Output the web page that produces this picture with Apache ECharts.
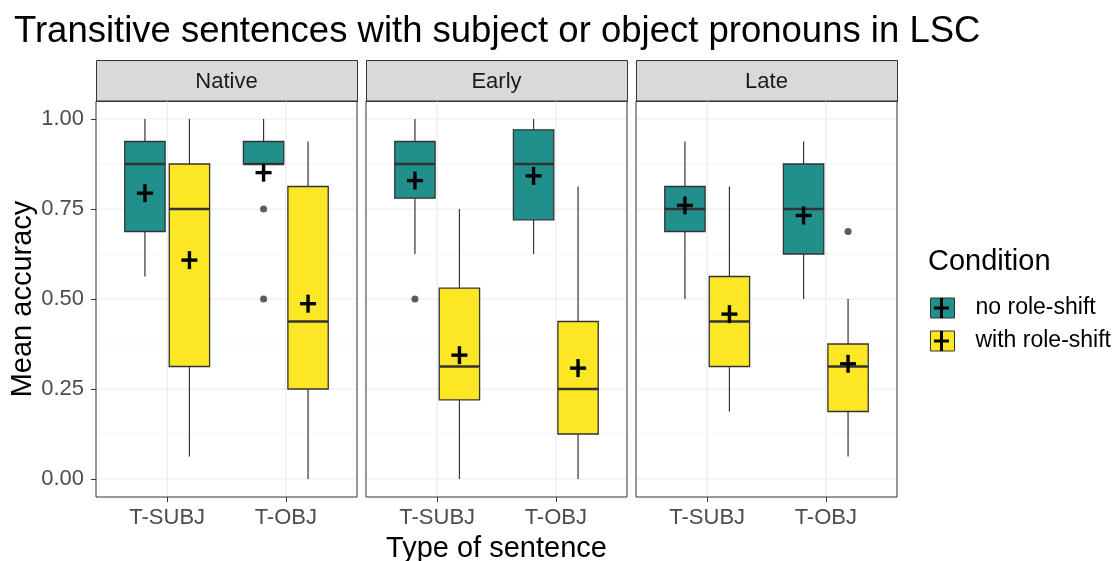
<!DOCTYPE html>
<html><head><meta charset="utf-8">
<script src="https://cdn.jsdelivr.net/npm/echarts@6/dist/echarts.min.js"></script>
<style>html,body{margin:0;padding:0;background:#fff}#c{width:1114px;height:561px}</style>
</head><body><div id="c"></div>
<script>
// ---------- data ----------
const panels = ['Native', 'Early', 'Late'];
const categories = ['T-SUBJ', 'T-OBJ'];
const conditions = ['no role-shift', 'with role-shift'];
const yTicks = [0, 0.25, 0.5, 0.75, 1];
const yTickLabels = ['0.00', '0.25', '0.50', '0.75', '1.00'];
const yMinorTicks = [0.125, 0.375, 0.625, 0.875];

// box stats [low whisker, Q1, median, Q3, high whisker]; per panel -> [T-SUBJ, T-OBJ]
const noShiftBoxes = [
  [[0.5625, 0.6875, 0.875, 0.9375, 1.0], [0.875, 0.875, 0.875, 0.9375, 1.0]],
  [[0.625, 0.78, 0.875, 0.9375, 1.0], [0.625, 0.72, 0.875, 0.97, 1.0]],
  [[0.5, 0.6875, 0.75, 0.8125, 0.9375], [0.5, 0.625, 0.75, 0.875, 0.9375]]
];
const withShiftBoxes = [
  [[0.0625, 0.3125, 0.75, 0.875, 1.0], [0.0, 0.25, 0.4375, 0.8125, 0.9375]],
  [[0.0, 0.22, 0.3125, 0.53, 0.75], [0.0, 0.125, 0.25, 0.4375, 0.8125]],
  [[0.1875, 0.3125, 0.4375, 0.5625, 0.8125], [0.0625, 0.1875, 0.3125, 0.375, 0.5]]
];
// means per panel -> [T-SUBJ, T-OBJ]
const noShiftMeans = [[0.794, 0.851], [0.829, 0.842], [0.760, 0.732]];
const withShiftMeans = [[0.608, 0.487], [0.344, 0.308], [0.458, 0.320]];
// outliers [panel index, category index, value]
const noShiftOutliers = [[0, 1, 0.75], [0, 1, 0.5], [1, 0, 0.5]];
const withShiftOutliers = [[2, 1, 0.6875]];

// ---------- style / layout ----------
const FONT = 'Liberation Sans, Arial, sans-serif';
const colors = ['#21908C', '#FDE725'];
const offsets = [-0.1875, 0.1875];
const boxWidth = 0.34;
const gridLefts = [96, 366, 636];
const gridW = 261, gridTop = 101, gridH = 396, stripH = 41;

const boxSets = [noShiftBoxes, withShiftBoxes];
const meanSets = [noShiftMeans, withShiftMeans];
const outlierSets = [noShiftOutliers, withShiftOutliers];

function line(x1, y1, x2, y2, w, c) {
  return { type: 'line', shape: { x1, y1, x2, y2 }, style: { stroke: c || '#333333', lineWidth: w } };
}

function boxRenderer(offset, color) {
  return function (params, api) {
    const xc = api.value(0) + 1 + offset;
    const pLow = api.coord([xc, api.value(1)]);
    const pQ1 = api.coord([xc, api.value(2)]);
    const pMed = api.coord([xc, api.value(3)]);
    const pQ3 = api.coord([xc, api.value(4)]);
    const pHigh = api.coord([xc, api.value(5)]);
    const hw = api.size([boxWidth, 0])[0] / 2;
    return {
      type: 'group', children: [
        line(pQ3[0], pQ3[1], pHigh[0], pHigh[1], 1.2),
        line(pLow[0], pLow[1], pQ1[0], pQ1[1], 1.2),
        { type: 'rect', shape: { x: pQ3[0] - hw, y: pQ3[1], width: 2 * hw, height: pQ1[1] - pQ3[1] },
          style: { fill: color, stroke: '#333333', lineWidth: 1.3 } },
        line(pMed[0] - hw, pMed[1], pMed[0] + hw, pMed[1], 2.6)
      ]
    };
  };
}

function meanRenderer(offset) {
  return function (params, api) {
    const p = api.coord([api.value(0) + 1 + offset, api.value(1)]);
    return {
      type: 'group', children: [
        line(p[0] - 8, p[1], p[0] + 8, p[1], 3.4, '#000'),
        line(p[0], p[1] - 9, p[0], p[1] + 9, 3.4, '#000')
      ]
    };
  };
}

function gridLineRenderer(params, api) {
  const v = api.value(0), kind = api.value(1);
  if (kind === 2) {
    const a = api.coord([v, -0.05]), b = api.coord([v, 1.05]);
    return line(a[0], a[1], b[0], b[1], 1.1, '#EBEBEB');
  }
  const a = api.coord([0.4, v]), b = api.coord([2.6, v]);
  return line(a[0], a[1], b[0], b[1], kind === 0 ? 1.1 : 0.7, kind === 0 ? '#EBEBEB' : '#F0F0F0');
}

const grids = [], xAxes = [], yAxes = [], series = [], graphics = [];
panels.forEach((panel, pi) => {
  grids.push({ left: gridLefts[pi], top: gridTop, width: gridW, height: gridH, show: true,
    containLabel: false, outerBoundsMode: 'none',
    borderColor: '#333333', borderWidth: 1, backgroundColor: 'transparent', z: 5 });
  const catVals = categories.map((c, i) => i + 1);
  xAxes.push({
    type: 'value', gridIndex: pi, min: 0.4, max: 2.6, position: 'bottom',
    axisLine: { show: false, onZero: false }, splitLine: { show: false },
    axisTick: { show: true, customValues: catVals, length: 5, lineStyle: { color: '#333333', width: 1 } },
    axisLabel: { show: true, customValues: catVals, formatter: v => categories[Math.round(v) - 1],
      fontSize: 22, color: '#4D4D4D', margin: 10, fontFamily: FONT },
    name: pi === 1 ? 'Type of sentence' : '', nameLocation: 'middle', nameGap: 37,
    nameTextStyle: { fontSize: 29, color: '#000', fontFamily: FONT }
  });
  yAxes.push({
    type: 'value', gridIndex: pi, min: -0.05, max: 1.05, position: 'left',
    axisLine: { show: false, onZero: false }, splitLine: { show: false },
    axisTick: { show: pi === 0, customValues: yTicks, length: 5, lineStyle: { color: '#333333', width: 1 } },
    axisLabel: { show: pi === 0, customValues: yTicks,
      formatter: v => { const k = yTicks.indexOf(v); return k >= 0 ? yTickLabels[k] : v.toFixed(2); },
      fontSize: 22, color: '#4D4D4D', margin: 12, fontFamily: FONT },
    name: pi === 0 ? 'Mean accuracy' : '', nameLocation: 'middle', nameGap: 50,
    nameTextStyle: { fontSize: 29, color: '#000', fontFamily: FONT }
  });
  // grid lines
  const gl = [];
  yTicks.forEach(v => gl.push([v, 0]));
  yMinorTicks.forEach(v => gl.push([v, 1]));
  catVals.forEach(v => gl.push([v, 2]));
  series.push({ type: 'custom', name: 'grid' + pi, xAxisIndex: pi, yAxisIndex: pi, z: 1, silent: true,
    renderItem: gridLineRenderer, data: gl });
  // boxes
  conditions.forEach((cond, ci) => {
    series.push({
      type: 'custom', name: cond, xAxisIndex: pi, yAxisIndex: pi, z: 2,
      itemStyle: { color: colors[ci] },
      renderItem: boxRenderer(offsets[ci], colors[ci]),
      encode: { x: 0, y: [1, 2, 3, 4, 5] },
      data: boxSets[ci][pi].map((b, k) => [k].concat(b))
    });
  });
  conditions.forEach((cond, ci) => {
    series.push({
      type: 'scatter', name: 'outlier', xAxisIndex: pi, yAxisIndex: pi, z: 3,
      symbolSize: 7, itemStyle: { color: '#333333' },
      data: outlierSets[ci].filter(o => o[0] === pi).map(o => [o[1] + 1 + offsets[ci], o[2]])
    });
    series.push({
      type: 'custom', name: 'mean', xAxisIndex: pi, yAxisIndex: pi, z: 4,
      renderItem: meanRenderer(offsets[ci]),
      data: meanSets[ci][pi].map((m, k) => [k, m])
    });
  });
  // strip
  graphics.push({ type: 'rect', left: gridLefts[pi], top: gridTop - stripH,
    shape: { width: gridW, height: stripH }, style: { fill: '#D9D9D9', stroke: '#333333', lineWidth: 1 } });
  graphics.push({ type: 'text', x: gridLefts[pi] + gridW / 2, y: gridTop - stripH / 2 + 1,
    style: { text: panel, fill: '#1A1A1A', align: 'center', verticalAlign: 'middle', font: '22px ' + FONT } });
});
graphics.push({ type: 'text', x: 928, y: 262,
  style: { text: 'Condition', fill: '#000', align: 'left', verticalAlign: 'middle', font: '29px ' + FONT } });

const plusIcon = 'path://M0,0 M23,26 M10,3 L13,3 L13,11.5 L19,11.5 L19,14.5 L13,14.5 L13,23 L10,23 L10,14.5 L4,14.5 L4,11.5 L10,11.5 Z';

const option = {
  animation: false,
  backgroundColor: '#fff',
  title: { text: 'Transitive sentences with subject or object pronouns in LSC', left: 9, top: 8,
    textStyle: { fontSize: 36.5, fontWeight: 'normal', color: '#000', fontFamily: FONT } },
  grid: grids, xAxis: xAxes, yAxis: yAxes,
  legend: [
    { data: conditions.map(c => ({ name: c, icon: 'rect' })), orient: 'vertical', left: 930, top: 295,
      padding: 0, itemWidth: 24, itemHeight: 20, itemGap: 7, selectedMode: false,
      itemStyle: { borderColor: '#333333', borderWidth: 1 },
      textStyle: { fontSize: 23, color: '#000', fontFamily: FONT, lineHeight: 26, padding: [0, 0, 0, 16] } },
    { data: conditions.map(c => ({ name: c, icon: plusIcon })), orient: 'vertical', left: 930, top: 295,
      padding: 0, itemWidth: 24, itemHeight: 26, itemGap: 7, selectedMode: false, z: 10,
      itemStyle: { color: '#000', borderWidth: 0 },
      textStyle: { fontSize: 23, color: 'rgba(0,0,0,0)', fontFamily: FONT, lineHeight: 26, padding: [0, 0, 0, 16] } }
  ],
  graphic: graphics,
  series: series
};
const chart = echarts.init(document.getElementById('c'), null, { renderer: 'canvas' });
chart.setOption(option);
</script></body></html>
